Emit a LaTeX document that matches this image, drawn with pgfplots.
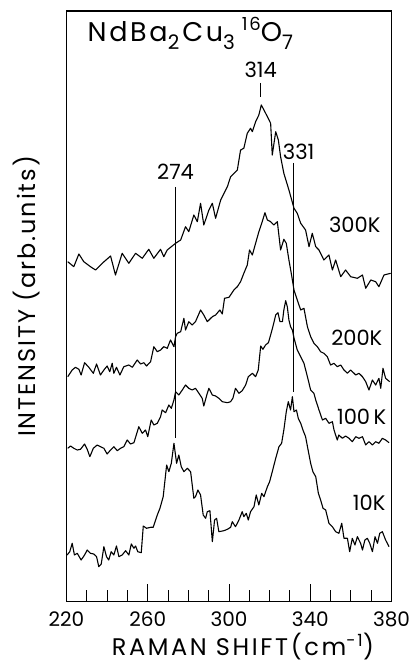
\documentclass[border=0pt]{standalone}
\usepackage{fontspec}
\setmainfont{Poppins}
\usepackage{pgfplots}
\usepackage{pgfplotstable}
\pgfplotsset{compat=1.18}

\pgfplotstableread{
x y
220.6 339.8
223.6 334.8
226.1 347.5
228.5 339.8
231.8 334.8
234.3 331.5
237.6 338.2
241.7 345.5
244.1 326.5
247.4 348.2
250.7 338.2
254.0 348.2
257.3 343.2
260.5 352.2
263.0 343.2
266.3 352.2
267.9 344.8
269.6 351.5
273.7 358.2
276.2 361.5
278.6 374.8
280.2 369.8
282.7 386.5
284.4 379.8
286.0 398.2
287.6 376.5
290.1 391.5
291.8 398.2
293.4 383.2
295.9 401.5
299.2 414.8
300.8 424.8
304.1 431.5
305.7 451.5
307.3 453.2
309.0 468.2
310.6 473.2
311.5 469.8
313.1 479.8
314.7 486.5
315.9 496.5
317.2 491.5
318.9 484.8
320.5 478.2
321.3 446.5
323.0 469.8
324.3 461.5
325.4 444.8
327.0 428.2
329.5 411.5
332.0 393.2
333.6 388.2
335.3 378.2
337.7 371.5
339.4 354.8
341.0 368.2
342.7 354.8
344.3 351.5
346.7 341.5
349.2 346.5
350.9 331.5
352.5 341.5
355.0 324.8
357.4 331.5
359.9 324.8
363.2 323.2
365.7 326.5
367.3 313.2
369.8 321.5
372.2 319.8
373.8 314.8
376.3 326.5
379.6 328.2
}\tblA

\pgfplotstableread{
x y
220.6 224.8
222.8 231.5
224.4 234.2
226.1 232.2
227.2 226.5
228.9 238.8
231.0 234.2
233.2 228.2
234.8 237.5
236.7 226.5
238.4 231.5
240.0 235.5
241.3 229.8
242.5 238.2
243.3 228.2
244.6 234.2
246.3 226.5
248.2 234.8
250.7 236.5
252.4 234.2
254.8 241.5
256.5 237.5
258.1 238.8
259.4 235.5
261.4 239.8
263.0 254.8
264.7 249.8
266.3 251.5
267.9 254.8
269.6 253.2
271.2 261.5
272.9 254.8
273.7 264.8
274.5 268.2
276.2 269.8
277.8 283.2
278.6 271.5
280.2 279.8
281.9 276.5
283.5 279.8
286.0 291.5
287.6 286.5
289.3 279.8
291.8 284.8
293.4 286.5
295.5 291.5
296.7 287.5
297.8 303.2
300.0 304.2
302.4 311.5
304.1 314.8
305.7 319.8
307.3 328.2
309.0 336.5
310.1 351.5
311.5 346.5
313.1 358.2
314.7 369.8
316.1 378.2
317.7 388.8
318.9 381.5
320.5 379.8
322.1 376.5
323.8 379.8
325.4 351.5
327.0 362.2
328.2 358.2
329.5 341.5
330.8 326.5
332.0 311.5
333.6 301.5
335.3 291.5
336.9 293.2
338.6 274.8
340.2 264.8
341.8 258.2
343.5 254.8
345.1 249.8
346.7 248.2
348.4 244.8
350.0 236.5
351.7 238.2
353.3 234.8
355.0 236.5
356.6 231.5
358.3 228.2
359.9 231.5
362.4 226.5
364.0 228.2
365.7 224.8
367.3 219.8
368.9 211.5
370.6 221.5
372.2 216.5
373.8 223.2
374.7 213.2
375.8 233.2
377.1 223.2
379.1 219.8
}\tblB

\pgfplotstableread{
x y
220.6 153.2
222.0 155.5
223.6 153.2
225.3 151.5
226.9 152.2
228.9 157.5
230.2 152.2
231.5 144.8
233.2 153.2
235.1 156.5
236.7 154.8
238.4 153.2
240.0 147.5
241.7 151.5
243.3 154.8
245.0 150.8
246.6 153.2
248.2 154.8
249.9 161.5
251.5 157.5
253.2 158.8
255.6 174.8
257.3 168.2
258.9 171.5
260.0 164.8
261.7 181.5
263.0 176.5
264.7 178.2
266.3 184.8
267.1 191.5
268.8 188.8
270.4 196.5
271.6 193.2
272.9 201.5
273.7 209.8
275.3 206.5
277.0 211.5
278.6 216.5
280.2 213.2
281.9 211.5
283.5 213.2
285.2 208.2
286.8 203.2
287.6 195.5
289.3 208.2
290.1 213.2
291.8 206.5
293.4 205.5
295.0 203.2
296.7 199.8
299.2 198.8
300.8 199.8
301.9 203.2
303.2 213.2
304.9 208.2
306.5 210.8
308.2 216.5
309.5 224.8
311.5 228.2
313.1 224.8
314.4 231.5
315.6 255.5
316.7 252.2
318.0 256.5
319.4 258.8
320.5 266.5
321.6 274.8
323.0 286.5
324.1 288.8
325.1 279.8
326.3 279.8
327.0 291.5
327.9 300.8
328.7 294.8
329.5 281.5
330.3 274.8
331.2 271.5
332.0 263.5
333.6 251.5
335.3 244.8
336.9 238.2
338.6 224.8
340.2 211.5
341.8 208.2
342.7 201.5
344.3 191.5
346.0 181.5
347.6 183.2
349.2 178.2
350.9 179.8
351.7 171.5
353.3 161.5
354.1 166.5
355.8 163.2
357.4 165.5
359.1 163.2
360.7 159.8
362.4 164.8
364.0 163.2
365.7 164.8
367.3 156.5
368.9 159.8
370.6 156.5
372.2 159.8
373.8 158.2
375.5 163.2
377.1 161.5
378.8 158.8
}\tblC

\pgfplotstableread{
x y
220.3 46.5
221.6 49.8
222.8 58.2
223.9 46.5
225.3 48.2
227.2 41.5
228.9 46.5
230.2 51.5
231.8 48.2
233.4 47.5
234.8 44.8
235.9 34.8
237.1 37.5
238.4 54.8
239.7 44.8
240.8 41.5
242.0 49.8
243.3 46.5
244.6 55.5
245.8 44.8
247.4 46.5
249.1 50.8
250.7 46.5
251.9 57.5
253.2 53.2
254.0 55.5
255.1 49.8
256.8 48.8
257.8 75.5
259.4 73.2
261.4 74.2
262.7 74.2
264.7 86.5
266.0 93.2
267.6 104.8
269.3 136.5
270.4 129.8
271.6 138.2
272.9 158.2
274.2 138.2
275.3 146.5
276.5 134.8
277.8 129.8
279.5 133.2
281.1 129.8
282.7 103.2
283.5 104.8
284.7 111.5
286.0 106.5
287.3 86.5
288.5 83.2
289.3 89.8
290.6 90.8
291.8 59.8
292.9 81.5
293.9 83.2
295.0 69.8
297.5 70.8
299.2 72.2
300.8 74.2
301.6 79.8
303.2 74.8
304.9 81.5
306.5 89.8
307.3 84.8
308.5 88.2
309.5 81.5
310.6 89.8
312.3 94.8
313.4 106.5
314.7 96.5
316.1 108.2
317.2 104.8
318.9 114.8
320.0 119.8
321.3 129.8
323.0 143.2
324.6 154.8
325.9 158.2
327.0 171.5
328.2 189.8
329.2 199.8
330.3 191.5
331.2 204.8
332.0 189.8
333.2 191.5
334.1 183.2
335.3 178.2
336.4 171.5
337.7 164.8
339.1 149.8
340.2 138.2
341.3 129.8
342.7 124.8
344.0 108.2
345.1 101.5
346.3 93.2
347.6 91.5
349.2 78.2
350.9 74.8
352.5 69.8
354.1 68.2
355.5 78.2
356.6 63.2
358.3 63.2
359.4 49.8
360.7 63.2
362.0 56.5
363.2 64.8
364.8 58.2
365.7 51.5
366.9 61.5
368.1 63.2
369.3 58.2
370.6 49.8
371.9 64.8
373.1 58.2
374.2 68.2
375.5 69.8
377.1 61.5
378.8 54.8
}\tblD

\newfontfamily\titlefont[LetterSpace=10]{Poppins}
\newcommand{\lowidx}[1]{\raisebox{-0.28em}{\fontsize{20bp}{21bp}\selectfont #1}}
\newcommand{\highidx}[1]{\raisebox{0.42em}{\fontsize{18bp}{19bp}\selectfont #1}}

\begin{document}
\begin{tikzpicture}
\path[use as bounding box] (0,0) rectangle (411bp,663bp);
\begin{axis}[
  at={(66.5bp,61.5bp)}, anchor=south west,
  scale only axis, width=325bp, height=590.5bp,
  xmin=220, xmax=380, ymin=0, ymax=590.5,
  xtick={220,260,300,340,380}, minor x tick num=3,
  xtick pos=left, ytick=\empty,
  tick align=inside,
  major tick length=17bp, minor tick length=11bp,
  every tick/.style={black, line width=1bp},
  axis line style={line width=1.2bp},
  clip=false,
  /pgf/number format/assume math mode=true,
  xticklabel style={font=\fontsize{20bp}{22bp}\selectfont, yshift=-7bp},
  xlabel={RAMAN SHIFT(cm\textsuperscript{-1})},
  xlabel style={font=\fontsize{24bp}{26bp}\selectfont\addfontfeature{LetterSpace=11}, at={(axis description cs:0.543,0)}, anchor=base, yshift=-53.5bp},
  ylabel={INTENSITY (arb.units)},
  ylabel style={font=\fontsize{24bp}{26bp}\selectfont\addfontfeature{LetterSpace=8}, at={(axis description cs:-0.1215,0.5165)}, anchor=center},
]
\addplot[black, line width=1.1bp, line join=round] table[x=x,y=y]{\tblA};
\addplot[black, line width=1.1bp, line join=round] table[x=x,y=y]{\tblB};
\addplot[black, line width=1.1bp, line join=round] table[x=x,y=y]{\tblC};
\addplot[black, line width=1.1bp, line join=round] table[x=x,y=y]{\tblD};

\draw[line width=0.8bp] (axis cs:273.7,414.5) -- (axis cs:273.7,163.5);
\draw[line width=0.8bp] (axis cs:331.8,438.5) -- (axis cs:331.8,209.5);
\draw[line width=0.8bp] (axis cs:315.6,518.5) -- (axis cs:315.6,504.5);

\node[font=\fontsize{21bp}{22bp}\selectfont] at (axis cs:273.7,429.5) {274};
\node[font=\fontsize{21bp}{22bp}\selectfont] at (axis cs:315.6,531.5) {314};
\node[font=\fontsize{21bp}{22bp}\selectfont] at (axis cs:334.3,449.5) {331};

\node[font=\fontsize{21bp}{22bp}\selectfont] at (axis cs:361.9,376.5) {300K};
\node[font=\fontsize{21bp}{22bp}\selectfont] at (axis cs:362.9,263.5) {200K};
\node[font=\fontsize{21bp}{22bp}\selectfont] at (axis cs:365.3,184.5) {100\,K};
\node[font=\fontsize{21bp}{22bp}\selectfont] at (axis cs:369.0,98.5) {10K};

\node[font=\titlefont\fontsize{27bp}{30bp}\selectfont, anchor=base west, inner sep=0pt] at (axis cs:230.3,559.5)
  {NdBa\lowidx{2}\hspace{3bp}Cu\lowidx{3}\hspace{7bp}\highidx{16}O\lowidx{7}};
\end{axis}
\end{tikzpicture}
\end{document}
